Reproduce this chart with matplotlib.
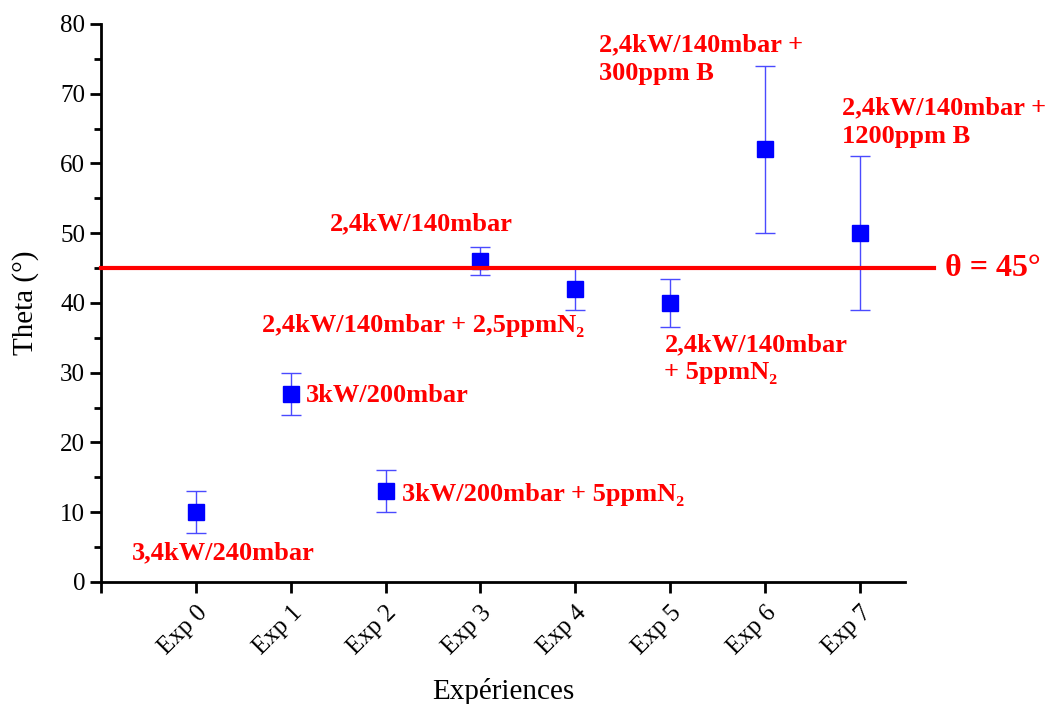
import matplotlib.pyplot as plt
from matplotlib.ticker import MultipleLocator

plt.rcParams['font.family'] = ['Liberation Serif', 'DejaVu Serif']

# data
experiences = ['Exp 0', 'Exp 1', 'Exp 2', 'Exp 3', 'Exp 4', 'Exp 5', 'Exp 6', 'Exp 7']
theta = [10, 27, 13, 46, 42, 40, 62, 50]
theta_err = [3, 3, 3, 2, 3, 3.5, 12, 11]
seuil = 45

labels = ['3,4kW/240mbar', '3kW/200mbar', '3kW/200mbar + 5ppmN₂',
          '2,4kW/140mbar', '2,4kW/140mbar + 2,5ppmN₂',
          '2,4kW/140mbar\n+ 5ppmN₂', '2,4kW/140mbar +\n300ppm B',
          '2,4kW/140mbar +\n1200ppm B']
label_x = [-0.67, 1.16, 2.17, 1.41, 0.70, 4.94, 4.25, 6.81]
label_y = [4.2, 26.7, 12.6, 51.3, 36.7, 32.0, 75.0, 65.9]

x = list(range(len(experiences)))

fig = plt.figure(figsize=(10.49, 7.04), dpi=100)
ax = fig.add_axes([0.0963, 0.1733, 0.7667, 0.7927])

ax.errorbar(x, theta, yerr=theta_err, fmt='none', ecolor='#4a4aff',
            elinewidth=1.0, capsize=7.5, capthick=1.0, zorder=2)
ax.plot(x, theta, 's', color='#0000ff', markersize=11, zorder=3)

# horizontal threshold line, running past the axes
ax.plot([-1, 7.78], [seuil, seuil], color='#ff0000', lw=3, clip_on=False, zorder=4)
ax.text(7.9, seuil, 'θ = 45°', color='#ff0000', fontsize=23, fontweight='bold',
        va='center', ha='left')

for lab, lx, ly in zip(labels, label_x, label_y):
    ax.text(lx, ly, lab, color='#ff0000', fontsize=19, fontweight='bold',
            va='center', ha='left', linespacing=1.3)

ax.set_xlim(-1, 7.48)
ax.set_ylim(0, 80)
ax.set_xticks([-1] + x)
ax.set_xticklabels([''] + experiences, rotation=45, ha='right',
                   rotation_mode='anchor', fontsize=18)
ax.yaxis.set_major_locator(MultipleLocator(10))
ax.yaxis.set_minor_locator(MultipleLocator(5))
ax.tick_params(axis='both', which='major', direction='out', length=8, width=2,
               labelsize=18)
ax.tick_params(axis='y', which='minor', direction='out', length=5, width=2)
ax.tick_params(axis='x', pad=6)

for side in ['top', 'right']:
    ax.spines[side].set_visible(False)
for side in ['left', 'bottom']:
    ax.spines[side].set_linewidth(2)

ax.set_xlabel('Expériences', fontsize=21, labelpad=14)
ax.set_ylabel('Theta (°)', fontsize=21, labelpad=15)

fig.savefig('out.png', dpi=100)
